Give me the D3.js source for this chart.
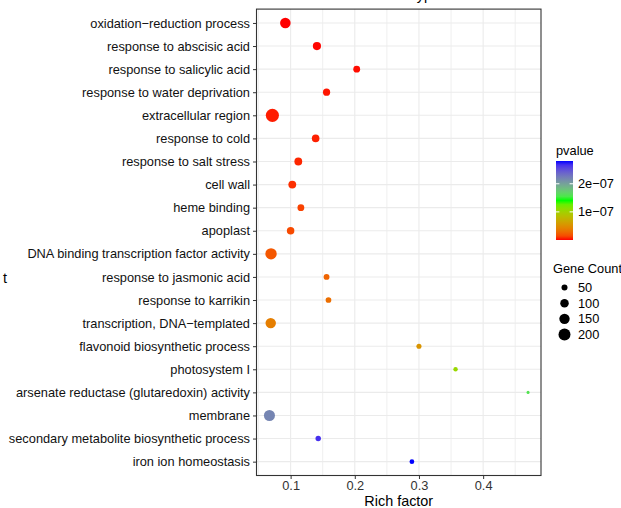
<!DOCTYPE html>
<html>
<head>
<meta charset="utf-8">
<script src="https://cdn.jsdelivr.net/npm/d3@7"></script>
<style>
  body { margin: 0; background: #fff; }
  svg { display: block; font-family: "Liberation Sans", Arial, Helvetica, sans-serif; }
</style>
</head>
<body>
<div id="chart"></div>
<script>
// GO terms, top to bottom
const terms = [
  "oxidation−reduction process",
  "response to abscisic acid",
  "response to salicylic acid",
  "response to water deprivation",
  "extracellular region",
  "response to cold",
  "response to salt stress",
  "cell wall",
  "heme binding",
  "apoplast",
  "DNA binding transcription factor activity",
  "response to jasmonic acid",
  "response to karrikin",
  "transcription, DNA−templated",
  "flavonoid biosynthetic process",
  "photosystem I",
  "arsenate reductase (glutaredoxin) activity",
  "membrane",
  "secondary metabolite biosynthetic process",
  "iron ion homeostasis"
];
const richFactor = [0.0918, 0.141, 0.203, 0.156, 0.0716, 0.139, 0.112, 0.1026, 0.116, 0.100,
                    0.0695, 0.156, 0.159, 0.069, 0.300, 0.357, 0.470, 0.067, 0.143, 0.289];
const geneCount = [155, 93, 65, 72, 240, 80, 85, 85, 65, 78,
                   180, 48, 45, 152, 36, 27, 13, 170, 41, 31];
const pvalue = [1.2e-12, 3.5e-10, 8.1e-10, 1.6e-9, 2.4e-9, 3e-9, 4e-9, 6e-9, 1.1e-8, 1.4e-8,
                1.9e-8, 2.5e-8, 3.0e-8, 3.9e-8, 5.3e-8, 1.05e-7, 1.58e-7, 2.18e-7, 2.67e-7, 2.81e-7];

const xTicks = [0.1, 0.2, 0.3, 0.4];
const xMinor = [0.05, 0.15, 0.25, 0.35, 0.45];
const pTicks = [1e-7, 2e-7];
const pTickLabels = ["1e−07", "2e−07"];
const sizeBreaks = [50, 100, 150, 200];

const data = terms.map((t, i) => ({ term: t, rf: richFactor[i], count: geneCount[i], p: pvalue[i] }));

const W = 621, H = 508;
const panel = { left: 256.5, right: 541, top: 9.1, bottom: 475.5 };

const svg = d3.select("#chart").append("svg")
  .attr("width", W).attr("height", H);

// scales
const ext = d3.extent(richFactor);
const pad = (ext[1] - ext[0]) * 0.05;
const x = d3.scaleLinear()
  .domain([ext[0] - pad, ext[1] + pad])
  .range([panel.left, panel.right]);

const y = d3.scalePoint()
  .domain(terms)
  .range([panel.top, panel.bottom])
  .padding(0.6);

const pExt = d3.extent(pvalue);
const color = d3.scaleLinear()
  .domain([pExt[0], (pExt[0] + pExt[1]) / 2, pExt[1]])
  .range(["#ff0000", "#00ff00", "#0000ff"])
  .interpolate(d3.interpolateLab);

const r = d3.scaleSqrt().domain([0, 200]).range([0, 6]);

// panel background + grid
svg.append("rect")
  .attr("x", panel.left).attr("y", panel.top)
  .attr("width", panel.right - panel.left).attr("height", panel.bottom - panel.top)
  .attr("fill", "#fff");

const grid = svg.append("g");
grid.selectAll(".vminor").data(xMinor).join("line")
  .attr("x1", d => x(d)).attr("x2", d => x(d))
  .attr("y1", panel.top).attr("y2", panel.bottom)
  .attr("stroke", "#ebebeb").attr("stroke-width", 0.8);
grid.selectAll(".vmajor").data(xTicks).join("line")
  .attr("x1", d => x(d)).attr("x2", d => x(d))
  .attr("y1", panel.top).attr("y2", panel.bottom)
  .attr("stroke", "#ebebeb").attr("stroke-width", 1.1);
grid.selectAll(".hmajor").data(terms).join("line")
  .attr("x1", panel.left).attr("x2", panel.right)
  .attr("y1", d => y(d)).attr("y2", d => y(d))
  .attr("stroke", "#ebebeb").attr("stroke-width", 1.1);

// points
svg.append("g").selectAll("circle").data(data).join("circle")
  .attr("cx", d => x(d.rf))
  .attr("cy", d => y(d.term))
  .attr("r", d => r(d.count))
  .attr("fill", d => color(d.p));

// panel border
svg.append("rect")
  .attr("x", panel.left).attr("y", panel.top)
  .attr("width", panel.right - panel.left).attr("height", panel.bottom - panel.top)
  .attr("fill", "none").attr("stroke", "#333").attr("stroke-width", 1.1);

// axes
const xAxis = svg.append("g")
  .attr("transform", `translate(0,${panel.bottom})`)
  .call(d3.axisBottom(x).tickValues(xTicks).tickFormat(d3.format(".1f")).tickSize(3.5).tickPadding(2));
xAxis.select(".domain").remove();
xAxis.selectAll("line").attr("stroke", "#333");
xAxis.selectAll("text").attr("fill", "#333").style("font-size", "12.8px")
  .style("font-family", "'Liberation Sans', Arial, sans-serif");

const yAxis = svg.append("g")
  .attr("transform", `translate(${panel.left},0)`)
  .call(d3.axisLeft(y).tickSize(3.5).tickPadding(3));
yAxis.select(".domain").remove();
yAxis.selectAll("line").attr("stroke", "#333");
yAxis.selectAll("text").attr("fill", "#111").style("font-size", "12.8px")
  .style("font-family", "'Liberation Sans', Arial, sans-serif");

// axis titles
svg.append("text")
  .attr("x", (panel.left + panel.right) / 2)
  .attr("y", 506)
  .attr("text-anchor", "middle")
  .style("font-size", "14.4px")
  .text("Rich factor");

// y title, cut off at the left edge
svg.append("text")
  .attr("x", 7)
  .attr("y", 283)
  .attr("text-anchor", "end")
  .style("font-size", "14.4px")
  .text("GO term t");

// title (mostly outside the view)
svg.append("text")
  .attr("x", 440)
  .attr("y", -0.5)
  .attr("text-anchor", "end")
  .style("font-size", "14.4px")
  .text("Enrichment of the GO terms in each type");

// colour legend
const defs = svg.append("defs");
const grad = defs.append("linearGradient")
  .attr("id", "pgrad").attr("x1", 0).attr("y1", 1).attr("x2", 0).attr("y2", 0);
d3.range(0, 1.0001, 0.05).forEach(t => {
  grad.append("stop")
    .attr("offset", t)
    .attr("stop-color", color(pExt[0] + t * (pExt[1] - pExt[0])));
});

const bar = { x: 556, w: 17, top: 161, bottom: 240 };
const pY = d3.scaleLinear().domain(pExt).range([bar.bottom, bar.top]);

svg.append("text")
  .attr("x", 556).attr("y", 155)
  .style("font-size", "12.8px")
  .text("pvalue");

svg.append("rect")
  .attr("x", bar.x).attr("y", bar.top)
  .attr("width", bar.w).attr("height", bar.bottom - bar.top)
  .attr("fill", "url(#pgrad)");

const pt = svg.append("g").selectAll("g").data(pTicks).join("g");
pt.append("line")
  .attr("x1", bar.x).attr("x2", bar.x + bar.w / 5)
  .attr("y1", d => pY(d)).attr("y2", d => pY(d))
  .attr("stroke", "#fff").attr("stroke-width", 1);
pt.append("line")
  .attr("x1", bar.x + bar.w * 4 / 5).attr("x2", bar.x + bar.w)
  .attr("y1", d => pY(d)).attr("y2", d => pY(d))
  .attr("stroke", "#fff").attr("stroke-width", 1);
pt.append("text")
  .attr("x", 578)
  .attr("y", d => pY(d))
  .attr("dy", "0.35em")
  .style("font-size", "12.8px")
  .text((d, i) => pTickLabels[i]);

// size legend
svg.append("text")
  .attr("x", 553).attr("y", 272.5)
  .style("font-size", "12.8px")
  .text("Gene Count");

const sizeY = d3.scalePoint().domain(sizeBreaks).range([287.5, 334.5]);
const sl = svg.append("g").selectAll("g").data(sizeBreaks).join("g");
sl.append("circle")
  .attr("cx", 564.5)
  .attr("cy", d => sizeY(d))
  .attr("r", d => r(d))
  .attr("fill", "#000");
sl.append("text")
  .attr("x", 578)
  .attr("y", d => sizeY(d))
  .attr("dy", "0.35em")
  .style("font-size", "12.8px")
  .text(d => d);
</script>
</body>
</html>
